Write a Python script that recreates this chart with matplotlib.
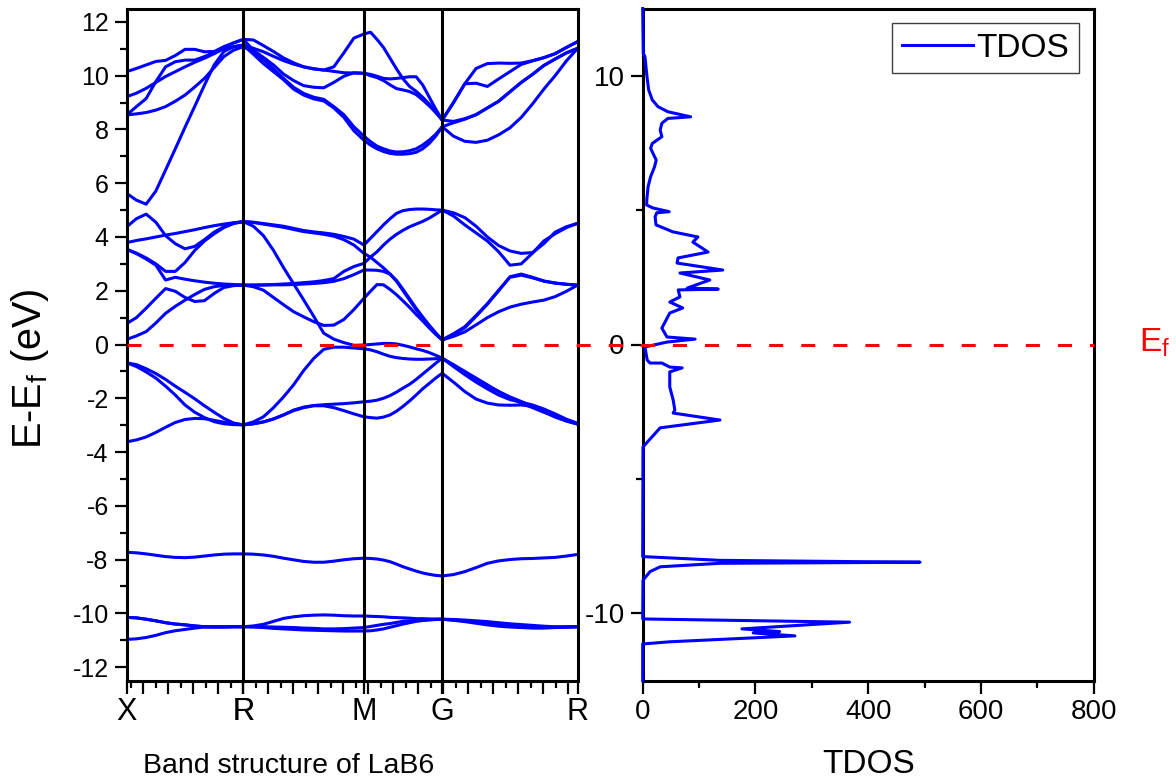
import numpy as np
import matplotlib.pyplot as plt
import matplotlib.transforms as mtransforms
from matplotlib.lines import Line2D
from matplotlib.ticker import FixedLocator, FixedFormatter, MultipleLocator

plt.rcParams['font.family'] = ['Liberation Sans', 'DejaVu Sans']
plt.rcParams['mathtext.default'] = 'regular'
plt.rcParams['axes.unicode_minus'] = False

BLUE = '#0000ff'

# high symmetry points along the k path
sym_labels = ['X', 'R', 'M', 'G', 'R']
sym_k = [0.0, 0.933, 1.898, 2.524, 3.608]
n_per_seg = 13  # samples per segment, ends included

# band energies (eV): X->R (13), R->M (12), M->G (12), G->R (12)
band_a = [10.15, 10.27, 10.40, 10.53, 10.57, 10.75, 10.98, 10.98, 10.89, 10.90, 11.08, 11.22, 11.35,
          11.33, 11.12, 10.90, 10.66, 10.48, 10.33, 10.25, 10.21, 10.33, 10.85, 11.40, 11.55,
          11.62, 11.35, 11.05, 10.65, 10.25, 9.88, 9.60, 9.42, 9.20, 8.95, 8.65, 8.35,
          9.00, 9.70, 10.27, 10.45, 10.47, 10.46, 10.47, 10.56, 10.67, 10.82, 11.05, 11.27]
band_b = [9.22, 9.35, 9.53, 9.75, 9.97, 10.15, 10.33, 10.50, 10.65, 10.82, 11.00, 11.08, 11.14,
          11.02, 10.89, 10.72, 10.56, 10.43, 10.33, 10.26, 10.21, 10.16, 10.11, 10.10, 10.09,
          10.00, 9.93, 9.82, 9.66, 9.52, 9.47, 9.41, 9.30, 9.10, 8.88, 8.63, 8.35,
          9.00, 9.70, 9.72, 9.60, 9.88, 10.15, 10.42, 10.55, 10.67, 10.82, 11.05, 11.27]
band_c = [8.54, 8.85, 9.15, 9.78, 10.33, 10.52, 10.58, 10.58, 10.71, 10.87, 11.05, 11.22, 11.35,
          10.95, 10.68, 10.40, 10.06, 9.82, 9.63, 9.57, 9.55, 9.75, 9.98, 10.11, 10.09,
          10.05, 9.98, 9.90, 9.88, 9.90, 9.93, 9.96, 9.96, 9.66, 9.21, 8.76, 8.35,
          8.30, 8.40, 8.55, 8.80, 9.05, 9.40, 9.75, 10.05, 10.38, 10.62, 10.85, 11.02]
band_d = [8.54, 8.58, 8.63, 8.72, 8.85, 9.05, 9.28, 9.58, 9.90, 10.30, 10.71, 10.95, 11.08,
          10.88, 10.60, 10.25, 9.90, 9.57, 9.34, 9.20, 9.12, 8.85, 8.55, 8.10, 7.75,
          7.55, 7.38, 7.28, 7.20, 7.16, 7.17, 7.21, 7.28, 7.42, 7.60, 7.82, 8.10,
          7.75, 7.56, 7.52, 7.60, 7.80, 8.06, 8.45, 8.95, 9.50, 10.00, 10.55, 11.02]
band_e = [5.62, 5.37, 5.22, 5.71, 6.49, 7.28, 8.08, 8.86, 9.65, 10.40, 10.90, 11.08, 11.14,
          10.80, 10.45, 10.15, 9.85, 9.50, 9.28, 9.14, 9.06, 8.80, 8.45, 7.95, 7.60,
          7.42, 7.28, 7.18, 7.11, 7.08, 7.08, 7.10, 7.15, 7.28, 7.48, 7.75, 8.10,
          8.25, 8.38, 8.55, 8.80, 9.05, 9.40, 9.75, 10.05, 10.38, 10.62, 10.85, 11.02]
band_f = [4.38, 4.68, 4.85, 4.55, 4.05, 3.75, 3.56, 3.65, 3.90, 4.18, 4.38, 4.52, 4.57,
          4.55, 4.50, 4.45, 4.40, 4.32, 4.24, 4.19, 4.15, 4.10, 4.02, 3.92, 3.70,
          3.95, 4.20, 4.45, 4.68, 4.88, 4.98, 5.02, 5.04, 5.04, 5.03, 5.01, 5.00,
          4.78, 4.45, 4.15, 3.85, 3.45, 2.95, 3.00, 3.40, 3.85, 4.12, 4.35, 4.51]
band_g = [3.79, 3.87, 3.93, 4.00, 4.07, 4.13, 4.20, 4.27, 4.35, 4.42, 4.48, 4.53, 4.57,
          4.54, 4.48, 4.42, 4.36, 4.28, 4.20, 4.15, 4.10, 4.03, 3.90, 3.70, 3.39,
          3.25, 3.05, 2.85, 2.62, 2.35, 2.00, 1.65, 1.30, 0.98, 0.68, 0.40, 0.17,
          0.38, 0.62, 1.05, 1.50, 2.00, 2.52, 2.62, 2.50, 2.36, 2.29, 2.24, 2.21]
band_h = [3.54, 3.40, 3.22, 3.00, 2.72, 2.72, 3.05, 3.50, 3.85, 4.12, 4.35, 4.50, 4.57,
          4.40, 4.05, 3.50, 2.86, 2.26, 1.66, 1.05, 0.42, 0.20, 0.07, -0.03, -0.02,
          0.00, 0.02, 0.04, 0.04, 0.02, -0.03, -0.09, -0.16, -0.22, -0.30, -0.40, -0.51,
          -0.78, -1.05, -1.30, -1.55, -1.75, -1.95, -2.12, -2.30, -2.47, -2.65, -2.82, -2.96]
band_i = [3.54, 3.38, 3.18, 2.95, 2.40, 2.50, 2.43, 2.37, 2.32, 2.28, 2.25, 2.23, 2.21,
          2.21, 2.22, 2.23, 2.25, 2.27, 2.30, 2.33, 2.38, 2.45, 2.72, 2.90, 3.02,
          3.25, 3.45, 3.70, 3.92, 4.10, 4.25, 4.38, 4.48, 4.58, 4.70, 4.85, 5.00,
          4.90, 4.72, 4.40, 4.00, 3.68, 3.48, 3.39, 3.42, 3.75, 4.18, 4.38, 4.51]
band_j = [0.78, 1.00, 1.35, 1.72, 2.08, 1.98, 1.75, 1.60, 1.63, 1.90, 2.12, 2.19, 2.21,
          2.15, 2.02, 1.75, 1.48, 1.22, 1.03, 0.85, 0.71, 0.72, 0.93, 1.30, 1.72,
          1.98, 2.23, 2.22, 2.05, 1.85, 1.62, 1.38, 1.12, 0.88, 0.62, 0.38, 0.17,
          0.30, 0.47, 0.73, 1.00, 1.22, 1.39, 1.50, 1.58, 1.65, 1.78, 1.98, 2.21]
band_k = [0.19, 0.32, 0.48, 0.80, 1.16, 1.42, 1.65, 1.86, 2.05, 2.15, 2.20, 2.21, 2.21,
          2.21, 2.21, 2.22, 2.22, 2.23, 2.25, 2.27, 2.30, 2.35, 2.45, 2.60, 2.77,
          2.77, 2.76, 2.72, 2.62, 2.38, 2.05, 1.70, 1.35, 1.03, 0.72, 0.44, 0.17,
          0.40, 0.66, 1.08, 1.52, 2.02, 2.50, 2.58, 2.48, 2.36, 2.28, 2.24, 2.21]
band_v1 = [-0.68, -0.75, -0.90, -1.08, -1.30, -1.55, -1.78, -2.02, -2.28, -2.52, -2.75, -2.92, -2.99,
           -2.88, -2.69, -2.35, -1.95, -1.50, -0.97, -0.52, -0.18, -0.10, -0.10, -0.13, -0.16,
           -0.20, -0.27, -0.36, -0.44, -0.49, -0.52, -0.54, -0.55, -0.55, -0.54, -0.53, -0.51,
           -0.82, -1.12, -1.40, -1.65, -1.88, -2.05, -2.15, -2.25, -2.40, -2.58, -2.78, -2.93]
band_v2 = [-0.68, -0.82, -1.02, -1.25, -1.55, -1.88, -2.25, -2.52, -2.72, -2.87, -2.95, -2.98, -2.99,
           -2.95, -2.88, -2.77, -2.62, -2.44, -2.33, -2.27, -2.24, -2.22, -2.20, -2.17, -2.13,
           -2.11, -2.07, -2.00, -1.90, -1.77, -1.62, -1.48, -1.30, -1.10, -0.90, -0.70, -0.51,
           -0.75, -1.00, -1.25, -1.50, -1.75, -1.98, -2.18, -2.35, -2.52, -2.68, -2.84, -2.96]
band_v3 = [-3.62, -3.55, -3.44, -3.27, -3.08, -2.90, -2.79, -2.75, -2.76, -2.82, -2.89, -2.95, -2.99,
           -2.95, -2.88, -2.77, -2.62, -2.46, -2.35, -2.28, -2.28, -2.35, -2.46, -2.58, -2.69,
           -2.72, -2.74, -2.70, -2.62, -2.48, -2.30, -2.10, -1.88, -1.65, -1.45, -1.25, -1.07,
           -1.40, -1.75, -2.03, -2.18, -2.25, -2.26, -2.25, -2.30, -2.50, -2.70, -2.85, -2.96]
band_l1 = [-7.73, -7.75, -7.79, -7.84, -7.89, -7.92, -7.93, -7.91, -7.87, -7.83, -7.80, -7.79, -7.79,
           -7.80, -7.83, -7.88, -7.95, -8.01, -8.07, -8.10, -8.10, -8.06, -8.01, -7.97, -7.95,
           -7.96, -7.98, -8.02, -8.08, -8.17, -8.27, -8.35, -8.43, -8.50, -8.55, -8.59, -8.61,
           -8.56, -8.45, -8.30, -8.14, -8.05, -8.00, -7.97, -7.96, -7.94, -7.92, -7.87, -7.81]
band_l2 = [-10.15, -10.17, -10.22, -10.28, -10.35, -10.40, -10.43, -10.47, -10.50, -10.51, -10.51, -10.50, -10.50,
           -10.47, -10.41, -10.30, -10.19, -10.13, -10.09, -10.07, -10.06, -10.07, -10.09, -10.10, -10.10,
           -10.11, -10.12, -10.13, -10.15, -10.16, -10.17, -10.18, -10.20, -10.20, -10.21, -10.22, -10.22,
           -10.23, -10.25, -10.28, -10.31, -10.35, -10.39, -10.42, -10.45, -10.48, -10.50, -10.50, -10.50]
band_l3 = [-10.15, -10.17, -10.22, -10.28, -10.35, -10.40, -10.43, -10.47, -10.50, -10.51, -10.51, -10.50, -10.50,
           -10.51, -10.53, -10.56, -10.58, -10.60, -10.62, -10.63, -10.64, -10.65, -10.66, -10.66, -10.66,
           -10.65, -10.62, -10.58, -10.52, -10.46, -10.40, -10.35, -10.30, -10.27, -10.25, -10.23, -10.22,
           -10.26, -10.31, -10.37, -10.43, -10.48, -10.51, -10.53, -10.55, -10.55, -10.53, -10.52, -10.50]
band_l4 = [-10.97, -10.95, -10.90, -10.82, -10.72, -10.65, -10.60, -10.55, -10.51, -10.50, -10.50, -10.50, -10.50,
           -10.50, -10.50, -10.51, -10.52, -10.53, -10.55, -10.56, -10.58, -10.58, -10.57, -10.55, -10.53,
           -10.49, -10.45, -10.41, -10.38, -10.34, -10.30, -10.28, -10.26, -10.24, -10.23, -10.22, -10.22,
           -10.25, -10.28, -10.33, -10.38, -10.43, -10.48, -10.51, -10.53, -10.53, -10.52, -10.51, -10.50]

bands = [band_a, band_b, band_c, band_d, band_e, band_f, band_g, band_h,
         band_i, band_j, band_k, band_v1, band_v2, band_v3,
         band_l1, band_l2, band_l3, band_l4]

# total density of states from top to bottom
tdos_E = [12.5, 10.83, 10.71, 9.96, 9.47, 9.10, 8.85, 8.66, 8.47, 8.41,
          8.23, 7.98, 7.73, 7.48, 7.30, 6.99, 6.86, 6.61, 6.24, 5.87,
          5.38, 5.19, 5.08, 4.94, 4.90, 4.75, 4.45, 4.19, 4.00, 3.81,
          3.44, 3.22, 3.03, 2.77, 2.66, 2.40, 2.10, 2.06, 2.03, 1.77,
          1.58, 1.36, 1.17, 0.61, 0.28, 0.20, 0.09, -0.09, -0.58, -0.69,
          -0.69, -0.84, -0.87, -1.02, -1.58, -2.06, -2.44, -2.55, -2.81, -3.10,
          -3.81, -7.89, -8.03, -8.10, -8.14, -8.27, -8.45, -8.77, -10.21, -10.33,
          -10.58, -10.68, -10.73, -10.84, -11.06, -11.14, -12.5]
tdos_val = [0, 1, 4, 7.6, 10.6, 17, 27, 44.5, 85, 44.5,
            34, 31, 34, 17, 14, 21, 24, 21, 14, 9.5,
            7.3, 7, 18, 47, 25, 22, 23.6, 53.7, 98, 89,
            116, 62.6, 61, 142, 66, 119, 79, 134, 63, 66,
            48, 71, 48, 34, 43, 93, 43, 4, 8, 13,
            34, 48, 70, 48, 48, 54, 57, 54, 137, 31,
            0.5, 0, 137, 492, 137, 31, 13, 0.5, 0, 367,
            176, 243, 196, 270, 48, 0, 0]

# unlabeled ticks of the k axis (long and short)
k_long_ticks = [0.133 + 0.2 * i for i in range(18)]
k_short_ticks = [0.033 + 0.2 * i for i in range(18)]


def make_kpath(sym_k, n):
    segs = [np.linspace(sym_k[i], sym_k[i + 1], n) for i in range(len(sym_k) - 1)]
    return np.concatenate([segs[0]] + [s[1:] for s in segs[1:]])


kpath = make_kpath(sym_k, n_per_seg)

fig = plt.figure(figsize=(11.76, 7.82), dpi=100)
W, H = 1176.0, 782.0
bottom = (H - 680.5) / H
height = 672.0 / H
ax1 = fig.add_axes([126.7 / W, bottom, 451.0 / W, height])
ax2 = fig.add_axes([642.7 / W, bottom, 451.0 / W, height])

# band structure
for band in bands:
    ax1.plot(kpath, band, color=BLUE, lw=2.2, solid_joinstyle='round', zorder=2)
for k in sym_k[1:-1]:
    ax1.axvline(k, color='black', lw=2.2, zorder=3)
ax1.set_xlim(sym_k[0], sym_k[-1])
ax1.set_ylim(-12.5, 12.5)

major_pos = sorted(sym_k + k_long_ticks)
major_lab = [sym_labels[sym_k.index(p)] if p in sym_k else '' for p in major_pos]
ax1.xaxis.set_major_locator(FixedLocator(major_pos))
ax1.xaxis.set_major_formatter(FixedFormatter(major_lab))
ax1.xaxis.set_minor_locator(FixedLocator(k_short_ticks))
ax1.yaxis.set_major_locator(MultipleLocator(2))
ax1.yaxis.set_minor_locator(MultipleLocator(1))
ax1.tick_params(axis='x', which='major', labelsize=22, pad=3)
ax1.tick_params(axis='y', which='major', labelsize=18, pad=4)
ax1.set_ylabel('E-E$_f$ (eV)', fontsize=28.5, va='center')
ax1.yaxis.set_label_coords(-0.214, 0.464)
ax1.set_xlabel('Band structure of LaB6', fontsize=20.5, va='baseline')
ax1.xaxis.set_label_coords(0.358, -0.1376)

# TDOS
ax2.plot(tdos_val, tdos_E, color=BLUE, lw=2.2, clip_on=False, zorder=3, label='TDOS')
ax2.set_xlim(0, 800)
ax2.set_ylim(-12.5, 12.5)
ax2.xaxis.set_major_locator(MultipleLocator(200))
ax2.xaxis.set_minor_locator(MultipleLocator(100))
ax2.yaxis.set_major_locator(MultipleLocator(10))
ax2.yaxis.set_minor_locator(MultipleLocator(5))
ax2.tick_params(axis='both', which='major', labelsize=20, pad=4)
ax2.set_xlabel('TDOS', fontsize=24, va='baseline')
ax2.xaxis.set_label_coords(0.5, -0.1376)
leg = ax2.legend(loc='upper right', fontsize=24, handlelength=2.15,
                 handletextpad=0.1, borderpad=0.28, borderaxespad=0.45,
                 fancybox=False, framealpha=1)
leg.get_frame().set_edgecolor('#404040')
leg.get_frame().set_linewidth(1.0)

for ax in (ax1, ax2):
    for sp in ax.spines.values():
        sp.set_linewidth(2.2)
    ax.tick_params(which='major', direction='out', length=9, width=1.6,
                   top=False, right=False)
    ax.tick_params(which='minor', direction='out', length=5, width=1.6,
                   top=False, right=False)

# Fermi level across both panels
trans = mtransforms.blended_transform_factory(fig.transFigure, ax1.transData)
x0 = ax1.get_position().x0
x1 = ax2.get_position().x1
fig.add_artist(Line2D([x0, x1], [0, 0], transform=trans, color='red', lw=2.2,
                      dashes=(4.6, 5.9), zorder=5))
fig.text(1139 / W, (H - 351.7) / H, 'E$_f$', color='red', fontsize=24,
         ha='left', va='baseline')

fig.savefig('out.png', dpi=100)
